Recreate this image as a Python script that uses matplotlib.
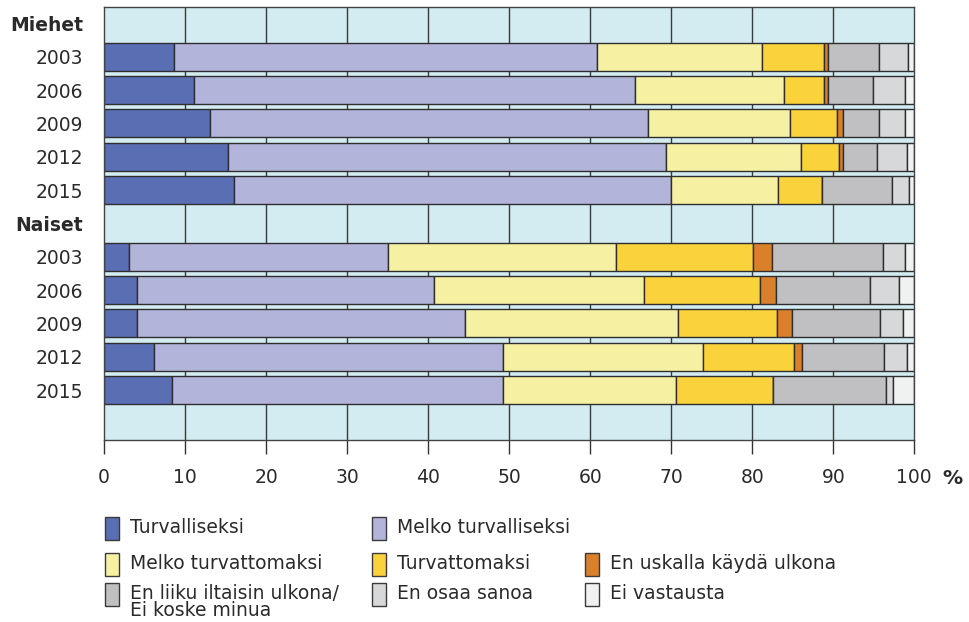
import matplotlib
matplotlib.use("Agg")
import matplotlib.pyplot as plt
from matplotlib.patches import Rectangle
import numpy as np

plt.rcParams['font.family'] = ['DejaVu Sans']

row_labels = ["Miehet", "2003", "2006", "2009", "2012", "2015",
              "Naiset", "2003", "2006", "2009", "2012", "2015", ""]
header_rows = [0, 6]
bar_rows = [1, 2, 3, 4, 5, 7, 8, 9, 10, 11]

categories = ["Turvalliseksi", "Melko turvalliseksi", "Melko turvattomaksi",
              "Turvattomaksi", "En uskalla käydä ulkona",
              "En liiku iltaisin ulkona/\nEi koske minua", "En osaa sanoa",
              "Ei vastausta"]
colors = ["#5A6EB4", "#B2B4DA", "#F6F1A2", "#F9D23C", "#DA7F2A",
          "#C0C0C2", "#D7D8DA", "#F0F1F1"]

# values per row (Miehet 2003..2015, Naiset 2003..2015), per category
turvalliseksi      = [8.6, 11.1, 13.1, 15.3, 16.0, 3.1, 4.1, 4.1, 6.2, 8.4]
melko_turvallinen  = [52.2, 54.4, 54.0, 54.1, 54.0, 32.0, 36.6, 40.5, 43.0, 40.8]
melko_turvaton     = [20.4, 18.4, 17.6, 16.6, 13.2, 28.1, 25.9, 26.2, 24.7, 21.4]
turvattomaksi      = [7.6, 5.0, 5.8, 4.7, 5.4, 16.9, 14.3, 12.3, 11.3, 12.0]
en_uskalla         = [0.5, 0.4, 0.7, 0.5, 0.0, 2.4, 2.0, 1.8, 0.9, 0.0]
en_liiku           = [6.3, 5.6, 4.4, 4.2, 8.6, 13.6, 11.6, 10.9, 10.2, 13.9]
en_osaa            = [3.6, 4.0, 3.3, 3.7, 2.1, 2.7, 3.6, 2.8, 2.8, 0.9]
ei_vastausta       = [0.8, 1.1, 1.1, 0.9, 0.7, 1.2, 1.9, 1.4, 0.9, 2.6]

series = [turvalliseksi, melko_turvallinen, melko_turvaton, turvattomaksi,
          en_uskalla, en_liiku, en_osaa, ei_vastausta]

xticks = [0, 10, 20, 30, 40, 50, 60, 70, 80, 90, 100]

W, H = 969, 622
fig = plt.figure(figsize=(W / 100, H / 100), dpi=100)
ax = fig.add_axes([104 / W, 1 - 440 / H, (914.3 - 104) / W, (440 - 6.7) / H])
ax.set_facecolor("#D3ECF2")

for x in xticks[1:-1]:
    ax.axvline(x, color="#3A3A3A", lw=1.0, zorder=1)

left = np.zeros(len(bar_rows))
for vals, col in zip(series, colors):
    v = np.array(vals)
    ax.barh(bar_rows, v, left=left, height=0.84, color=col,
            edgecolor="#2E2E2E", linewidth=1.0, zorder=2)
    left = left + v

ax.set_xlim(0, 100)
ax.set_ylim(12.5, -0.5)
ax.set_yticks(range(len(row_labels)))
ax.set_yticklabels(row_labels)
for i, lab in enumerate(ax.get_yticklabels()):
    lab.set_color("#2A2A2A")
    if i in header_rows:
        lab.set_fontweight("bold")
ax.tick_params(axis="y", length=0, pad=15, labelsize=13.5)

ax.set_xticks(xticks)
ax.set_xticklabels([str(t) for t in xticks])
ax.tick_params(axis="x", direction="out", length=10, width=1.0,
               color="#333333", pad=10, labelsize=13.5, labelcolor="#2A2A2A")
for s in ax.spines.values():
    s.set_color("#444444")
    s.set_linewidth(1.0)

fig.text(942 / W, 1 - 478 / H, "%", fontsize=14.5, fontweight="bold",
         color="#2A2A2A", ha="left", va="center")

# legend
leg_cols = [105, 372, 585]
leg_rows = [528, 564, 594]
positions = [(0, 0), (1, 0), (0, 1), (1, 1), (2, 1), (0, 2), (1, 2), (2, 2)]
sw_w, sw_h = 14, 23
for (c, r), cat, col in zip(positions, categories, colors):
    x0 = leg_cols[c]
    yc = leg_rows[r]
    fig.patches.append(Rectangle((x0 / W, 1 - (yc + sw_h / 2) / H), sw_w / W, sw_h / H,
                                 transform=fig.transFigure, facecolor=col,
                                 edgecolor="#3A3A3A", linewidth=1.0))
    fig.text((x0 + 25) / W, 1 - (yc - 10) / H, cat, fontsize=13.5,
             color="#2A2A2A", ha="left", va="top", linespacing=0.85)

fig.savefig("out.png", dpi=100)
